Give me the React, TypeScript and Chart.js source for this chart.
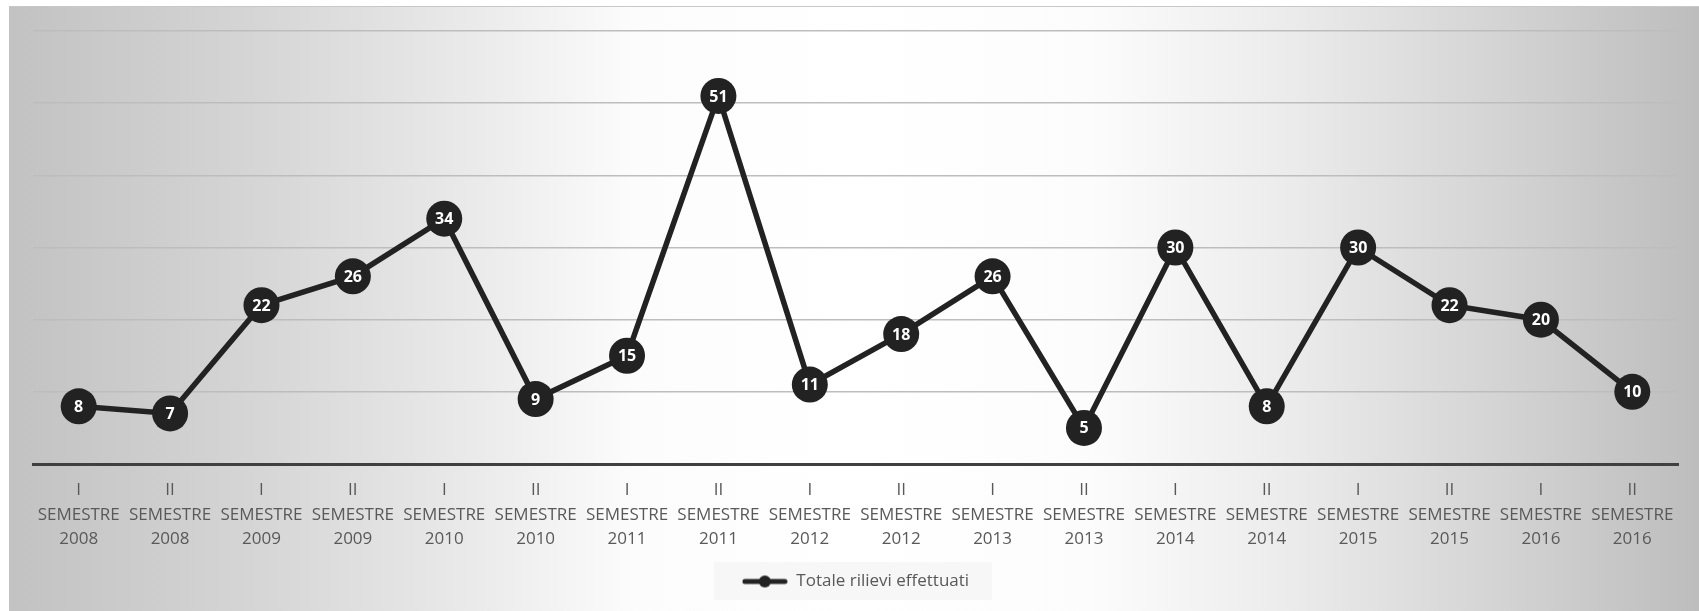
import React, { useEffect, useRef } from "react";
import { Chart, registerables } from "chart.js";

Chart.register(...registerables);

const semesters: string[] = ["I", "II", "I", "II", "I", "II", "I", "II", "I", "II", "I", "II", "I", "II", "I", "II", "I", "II"];
const years: string[] = ["2008", "2008", "2009", "2009", "2010", "2010", "2011", "2011", "2012", "2012", "2013", "2013", "2014", "2014", "2015", "2015", "2016", "2016"];
const values: number[] = [8, 7, 22, 26, 34, 9, 15, 51, 11, 18, 26, 5, 30, 8, 30, 22, 20, 10];
const seriesName = "Totale rilievi effettuati";
const yMin = 0;
const yMax = 60;
const yStep = 10;

const W = 1690;
const H = 605;

export default function App() {
  const ref = useRef<HTMLCanvasElement | null>(null);

  useEffect(() => {
    const canvas = ref.current;
    if (!canvas) return;

    const icon = document.createElement("canvas");
    icon.width = 46;
    icon.height = 14;
    const ictx = icon.getContext("2d")!;
    ictx.strokeStyle = "#222222";
    ictx.lineWidth = 5;
    ictx.lineCap = "round";
    ictx.beginPath();
    ictx.moveTo(3, 7);
    ictx.lineTo(43, 7);
    ictx.stroke();
    ictx.fillStyle = "#222222";
    ictx.beginPath();
    ictx.arc(23, 7, 6, 0, Math.PI * 2);
    ictx.fill();

    const bgPlugin = {
      id: "bgPlugin",
      beforeDraw(chart: any) {
        const ctx = chart.ctx;
        ctx.save();
        const g = ctx.createLinearGradient(0, 0, chart.width, 0);
        g.addColorStop(0, "#c2c2c2");
        g.addColorStop(0.15, "#d6d6d6");
        g.addColorStop(0.28, "#ebebeb");
        g.addColorStop(0.37, "#fcfcfc");
        g.addColorStop(0.5, "#ffffff");
        g.addColorStop(0.64, "#fcfcfc");
        g.addColorStop(0.76, "#ebebeb");
        g.addColorStop(0.88, "#d4d4d4");
        g.addColorStop(1, "#bdbdbd");
        ctx.fillStyle = g;
        ctx.fillRect(0, 0, chart.width, chart.height);
        ctx.fillStyle = "#c8c8c8";
        ctx.fillRect(0, 0, chart.width, 1);
        const lg = chart.legend;
        if (lg && lg.legendHitBoxes && lg.legendHitBoxes.length) {
          const hb = lg.legendHitBoxes[0];
          ctx.fillStyle = "#f7f7f7";
          ctx.fillRect(hb.left - 28, hb.top - 11, hb.width + 51, hb.height + 21);
        }
        ctx.restore();
      },
    };

    const labelPlugin = {
      id: "labelPlugin",
      afterDatasetsDraw(chart: any) {
        const ctx = chart.ctx;
        const meta = chart.getDatasetMeta(0);
        const data = chart.data.datasets[0].data as number[];
        ctx.save();
        ctx.fillStyle = "#ffffff";
        ctx.font = "bold 16px 'Open Sans'";
        ctx.textAlign = "center";
        ctx.textBaseline = "middle";
        meta.data.forEach((pt: any, i: number) => {
          ctx.fillText(String(data[i]), pt.x, pt.y + 1);
        });
        ctx.restore();
      },
    };

    const chart = new Chart(canvas, {
      type: "line",
      data: {
        labels: semesters.map((s, i) => [s, "SEMESTRE", years[i]]),
        datasets: [
          {
            label: seriesName,
            data: values,
            borderColor: "#222222",
            backgroundColor: "#222222",
            borderWidth: 5.5,
            pointRadius: 18,
            pointHoverRadius: 18,
            pointBackgroundColor: "#222222",
            pointBorderColor: "#222222",
            pointBorderWidth: 0,
            tension: 0,
            clip: false as any,
          },
        ],
      },
      options: {
        responsive: false,
        animation: false,
        events: [],
        layout: { padding: { left: 24, right: 21, top: 25, bottom: 11 } },
        scales: {
          x: {
            offset: true,
            grid: { display: false, drawTicks: false },
            border: { display: true, color: "#404040", width: 3 },
            ticks: {
              autoSkip: false,
              maxRotation: 0,
              minRotation: 0,
              padding: 14,
              color: "#595959",
              font: { family: "'Open Sans'", size: 17, lineHeight: 24.5 / 17 },
            },
            afterFit(scale: any) {
              scale.height = 99;
            },
          },
          y: {
            min: yMin,
            max: yMax,
            ticks: { display: false, stepSize: yStep },
            grid: { color: "#bdbdbd", lineWidth: 1.5, drawTicks: false },
            border: { display: false },
            afterFit(scale: any) {
              scale.width = 0;
            },
          },
        },
        plugins: {
          tooltip: { enabled: false },
          legend: {
            position: "bottom",
            labels: {
              usePointStyle: true,
              pointStyleWidth: 46,
              padding: 10,
              color: "#595959",
              font: { family: "'Open Sans'", size: 17 },
              generateLabels: () => [
                {
                  text: seriesName,
                  pointStyle: icon as any,
                  fillStyle: "#222222",
                  strokeStyle: "#222222",
                  lineWidth: 0,
                  hidden: false,
                  datasetIndex: 0,
                  fontColor: "#595959",
                } as any,
              ],
            },
          },
        },
      },
      plugins: [bgPlugin, labelPlugin],
    });

    return () => chart.destroy();
  }, []);

  return (
    <div style={{ position: "absolute", left: 9, top: 6, width: W, height: H }}>
      <canvas ref={ref} width={W} height={H} style={{ display: "block", width: W, height: H }} />
    </div>
  );
}
